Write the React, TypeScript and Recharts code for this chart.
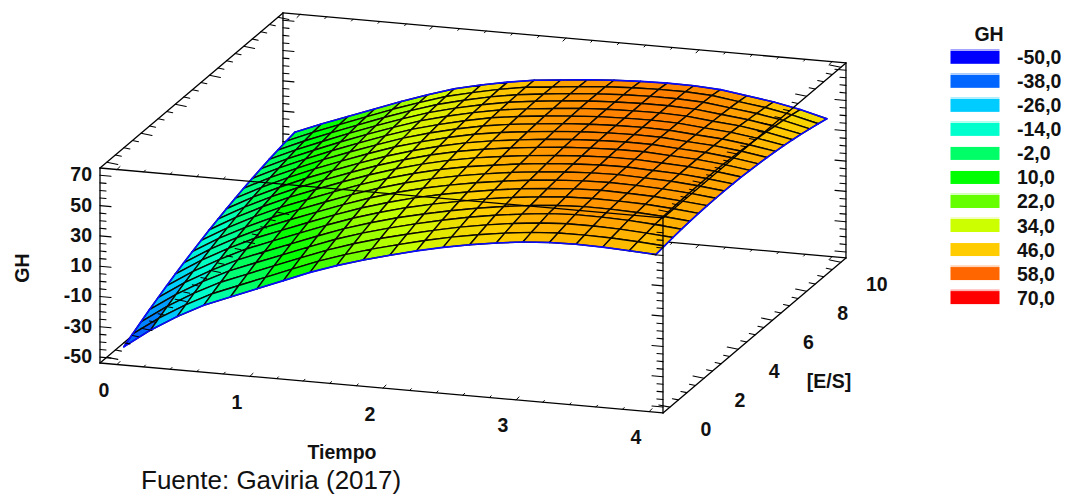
import React from "react";
import { ScatterChart, Scatter, XAxis, YAxis } from "recharts";

// Tiempo / [E/S] grid and GH estimates. Edge rows were read off the picture's silhouette;
// the interior can only be estimated from the colours and the smooth shape of the surface.
const tiempo = [0,0.2,0.4,0.6,0.8,1,1.2,1.4,1.6,1.8,2,2.2,2.4,2.6,2.8,3,3.2,3.4,3.6,3.8,4];
const es = [0,0.5,1,1.5,2,2.5,3,3.5,4,4.5,5,5.5,6,6.5,7,7.5,8,8.5,9,9.5,10];
const gh = [
[-46,-33.5,-23,-14,-7,0,7,14,20,25.3,30,34.4,38.3,41.6,44.3,46.5,47.7,48.1,47.8,47,46],
[-42.5,-30.3,-20,-11.1,-4.1,2.8,9.8,16.6,22.5,27.7,32.2,36.5,40.3,43.4,46,48.1,49.2,49.4,49,48.1,46.9],
[-39.1,-27.2,-17.1,-8.3,-1.4,5.6,12.4,19.1,24.9,29.9,34.3,38.4,42.1,45.1,47.6,49.5,50.5,50.6,50.1,49,47.7],
[-35.8,-24.2,-14.3,-5.6,1.3,8.1,14.9,21.5,27.1,32,36.3,40.3,43.8,46.7,49,50.9,51.8,51.7,51.1,49.9,48.4],
[-32.7,-21.3,-11.6,-3.1,3.8,10.6,17.3,23.7,29.2,34,38.1,41.8,45,47.7,49.9,51.5,52.3,52.2,51.5,50.4,48.9],
[-29.7,-18.6,-9.1,-0.7,6.2,12.9,19.6,25.8,31.2,35.9,39.8,43.2,46.4,48.9,50.8,52.3,52.9,52.7,52.2,50.9,49.3],
[-26.8,-16,-6.7,1.6,8.4,15.1,21.7,27.8,33,37.6,41.4,44.6,47.5,49.8,51.6,52.9,53.5,53.1,52.5,51.2,49.6],
[-24.1,-13.5,-4.4,3.7,10.6,17.2,23.7,29.6,34.8,39.2,42.8,45.9,48.5,50.7,52.3,53.4,53.9,53.5,52.8,51.5,49.7],
[-21.5,-11.2,-2.3,5.7,12.5,19.1,25.5,31.3,36.3,40.6,44.1,47,49.5,51.4,52.9,53.9,54.3,53.7,53,51.6,49.7],
[-19,-9,-0.2,7.6,14.4,21,27.3,32.9,37.8,42,45.3,47.9,50.3,52.1,53.4,54.3,54.5,53.8,53.1,51.6,49.6],
[-16.6,-6.9,1.7,9.4,16.2,22.7,28.9,34.4,39.2,43.2,46.4,48.9,51,52.7,53.9,54.7,54.8,53.9,53.1,51.6,49.4],
[-14.4,-4.9,3.4,11,17.8,24.2,30.4,35.7,40.4,44.3,47.3,49.7,51.7,53.3,54.3,55,55,54,53.1,51.4,49],
[-12.3,-3.1,5,12.5,19.2,25.6,31.7,36.9,41.4,45.2,48.1,50.3,52.3,53.7,54.6,55.1,55,53.9,52.9,51,48.5],
[-10.3,-1.4,6.6,13.9,20.6,27,33,38,42.4,46.1,48.8,50.9,52.7,54,54.8,55.2,55,53.7,52.6,50.6,47.9],
[-8.4,0.2,7.9,15.2,21.8,28.1,34.1,39,43.2,46.8,49.4,51.3,53,54.2,54.9,55.2,54.9,53.5,52.2,50,47.2],
[-6.7,1.7,9.2,16.3,22.9,29.2,35.1,39.8,43.9,47.4,49.8,51.7,53.2,54.4,55,55.2,54.8,53.2,51.8,49.4,46.3],
[-5.1,3,10.3,17.3,23.9,30.1,35.9,40.5,44.5,47.8,50.1,51.9,53.5,54.5,55,55.2,54.6,52.8,51.3,48.7,45.3],
[-3.6,4.2,11.3,18.2,24.7,30.9,36.6,41.1,44.9,48.1,50.3,52.1,53.6,54.5,55.1,55.1,54.5,52.5,50.6,47.8,44.2],
[-2.3,5.3,12.2,18.9,25.5,31.6,37.2,41.5,45.3,48.3,50.3,52.1,53.5,54.5,55,55,54.2,52.1,49.9,46.9,42.9],
[-1.1,6.2,12.9,19.5,26.1,32.1,37.7,41.8,45.5,48.4,50.2,52,53.4,54.3,54.8,54.8,53.9,51.4,49.1,45.8,41.5],
[0,7,13.5,20,26.5,32.5,38,42,45.5,48.3,50,51.7,53,53.8,54.2,54,53,50.5,48,44.5,40],
];
const ghLabels = [-50,-30,-10,10,30,50,70];
const ghMinor = [-50,-45,-40,-35,-30,-25,-20,-15,-10,-5,0,5,10,15,20,25,30,35,40,45,50,55,60,65,70];
const tiempoLabels = [0,1,2,3,4];
const tiempoTicks = [0,0.2,0.4,0.6,0.8,1,1.2,1.4,1.6,1.8,2,2.2,2.4,2.6,2.8,3,3.2,3.4,3.6,3.8,4];
const esLabels = [0,2,4,6,8,10];
const esTicks = [0,0.5,1,1.5,2,2.5,3,3.5,4,4.5,5,5.5,6,6.5,7,7.5,8,8.5,9,9.5,10];
const legendValues = ["-50,0","-38,0","-26,0","-14,0","-2,0","10,0","22,0","34,0","46,0","58,0","70,0"];
const legendLevels = [-50,-38,-26,-14,-2,10,22,34,46,58,70];
const legendColors = ["#0000ff","#0066ff","#00ccff","#00ffcc","#00ff66","#00ff00","#66ff00","#ccff00","#ffcc00","#ff6600","#ff0000"];
const legendPlain = ["-2,0","10,0","46,0"];

const W = 1068, H = 496;
const tMin = -0.128, tMax = 4.105, eMin = -0.4, eMax = 10.3, zMin = -53.9, zMax = 74.8;
const project = (t: number, e: number, z: number) => ({
  x: 100 + 133 * (t - tMin) + 17.1 * (e - eMin),
  y: 363 + 11.8 * (t - tMin) - 14.49 * (e - eMin) - 1.515 * (z - zMin),
});

const hexToRgb = (h: string) => [1, 3, 5].map((i) => parseInt(h.slice(i, i + 2), 16));
const colorAt = (z: number) => {
  const v = Math.max(legendLevels[0], Math.min(z, legendLevels[legendLevels.length - 1]));
  let i = 0;
  while (i < legendLevels.length - 2 && v > legendLevels[i + 1]) i++;
  const f = (v - legendLevels[i]) / (legendLevels[i + 1] - legendLevels[i]);
  const a = hexToRgb(legendColors[i]), b = hexToRgb(legendColors[i + 1]);
  return `rgb(${a.map((c, k) => Math.round(c + (b[k] - c) * f)).join(",")})`;
};

// surface cells, far to near
const cells: any[] = [];
for (let j = es.length - 2; j >= 0; j--) {
  for (let i = 0; i < tiempo.length - 1; i++) {
    const pts = [
      project(tiempo[i], es[j], gh[j][i]),
      project(tiempo[i + 1], es[j], gh[j][i + 1]),
      project(tiempo[i + 1], es[j + 1], gh[j + 1][i + 1]),
      project(tiempo[i], es[j + 1], gh[j + 1][i]),
    ];
    const x = pts.reduce((s, p) => s + p.x, 0) / 4;
    const y = pts.reduce((s, p) => s + p.y, 0) / 4;
    const z = (gh[j][i] + gh[j][i + 1] + gh[j + 1][i + 1] + gh[j + 1][i]) / 4;
    cells.push({ x, y, rel: pts.map((p) => [p.x - x, p.y - y]), fill: colorAt(z) });
  }
}

type P = { x: number; y: number };
const seg = (a: P, b: P, stroke = "#000", w = 1.3) => ({
  x: (a.x + b.x) / 2, y: (a.y + b.y) / 2, dx: (b.x - a.x) / 2, dy: (b.y - a.y) / 2, stroke, w,
});
const off = (p: P, dx: number, dy: number) => ({ x: p.x + dx, y: p.y + dy });

const backLines = [
  seg(project(tMin, eMax, zMin), project(tMin, eMax, zMax)),
  seg(project(tMin, eMax, zMin), project(tMax, eMax, zMin)),
  seg(project(tMin, eMin, zMin), project(tMin, eMax, zMin)),
  seg(project(tMin, eMax, zMax), project(tMax, eMax, zMax)),
  seg(project(tMax, eMax, zMin), project(tMax, eMax, zMax)),
  seg(project(tMin, eMin, zMax), project(tMin, eMax, zMax)),
];
const frontLines = [
  seg(project(tMin, eMin, zMax), project(tMax, eMin, zMax)),
  seg(project(tMax, eMin, zMax), project(tMax, eMax, zMax)),
  seg(project(tMin, eMin, zMin), project(tMin, eMin, zMax)),
  seg(project(tMin, eMin, zMin), project(tMax, eMin, zMin)),
  seg(project(tMax, eMin, zMin), project(tMax, eMin, zMax)),
  seg(project(tMax, eMin, zMin), project(tMax, eMax, zMin)),
];
ghMinor.forEach((z) => {
  const major = ghLabels.includes(z);
  const len = major ? 11 : 6;
  backLines.push(seg(project(tMin, eMax, z), off(project(tMin, eMax, z), len, len * 0.09), "#000", 1.1));
  backLines.push(seg(project(tMax, eMax, z), off(project(tMax, eMax, z), -len, -len * 0.09), "#000", 1.1));
  frontLines.push(seg(project(tMin, eMin, z), off(project(tMin, eMin, z), len, len * 0.09), "#000", 1.1));
  frontLines.push(seg(project(tMax, eMin, z), off(project(tMax, eMin, z), -len, -len * 0.09), "#000", 1.1));
});
tiempoTicks.forEach((t) => {
  const major = tiempoLabels.includes(t);
  const s = major ? 3 : 1.8;
  backLines.push(seg(project(t, eMax, zMin), off(project(t, eMax, zMin), -s, s), "#000", 1));
  backLines.push(seg(project(t, eMax, zMax), off(project(t, eMax, zMax), -s, s), "#000", 1));
  frontLines.push(seg(project(t, eMin, zMin), off(project(t, eMin, zMin), s, -s), "#000", 1));
  backLines.push(seg(project(t, eMin, zMax), off(project(t, eMin, zMax), s, -s), "#000", 1));
});
esTicks.forEach((e) => {
  const major = esLabels.includes(e);
  const len = major ? 11 : 6;
  backLines.push(seg(project(tMin, e, zMax), off(project(tMin, e, zMax), len, len * 0.2), "#000", 1.1));
  frontLines.push(seg(project(tMin, e, zMin), off(project(tMin, e, zMin), len, len * 0.2), "#000", 1.1));
  frontLines.push(seg(project(tMax, e, zMax), off(project(tMax, e, zMax), -len, -len * 0.2), "#000", 1.1));
  frontLines.push(seg(project(tMax, e, zMin), off(project(tMax, e, zMin), -len, -len * 0.2), "#000", 1.1));
});

const BLUE = "#0a0aff";
const rim: any[] = [];
for (let i = 0; i < tiempo.length - 1; i++) {
  const last = es.length - 1;
  rim.push(seg(project(tiempo[i], es[0], gh[0][i]), project(tiempo[i + 1], es[0], gh[0][i + 1]), BLUE, 1.6));
  rim.push(seg(project(tiempo[i], es[last], gh[last][i]), project(tiempo[i + 1], es[last], gh[last][i + 1]), BLUE, 1.6));
}
for (let j = 0; j < es.length - 1; j++) {
  const last = tiempo.length - 1;
  rim.push(seg(project(tiempo[0], es[j], gh[j][0]), project(tiempo[0], es[j + 1], gh[j + 1][0]), BLUE, 1.6));
  rim.push(seg(project(tiempo[last], es[j], gh[j][last]), project(tiempo[last], es[j + 1], gh[j + 1][last]), BLUE, 1.6));
}

const FS = 19.5;
const label = (x: number, y: number, text: string, anchor = "middle", size = FS, weight = 700, rotate = 0) =>
  ({ x, y, text, anchor, size, weight, rotate });
const labels = [
  ...ghLabels.map((z) => { const p = project(tMin, eMin, z); return label(p.x - 8, p.y - 1, String(z), "end"); }),
  ...tiempoLabels.map((t) => { const p = project(t, eMin, zMin); return label(p.x - 13, p.y + 25.5, String(t)); }),
  ...esLabels.map((e) => { const p = project(tMax, e, zMin); return label(p.x + 36, p.y + 22, String(e)); }),
  label(22, 268, "GH", "middle", FS, 700, -90),
  label(342, 452, "Tiempo", "middle", FS),
  label(829, 381, "[E/S]", "middle", FS),
  label(141, 480, "Fuente: Gaviria (2017)", "start", 26, 400),
  label(989, 34, "GH", "middle", FS),
  ...legendValues.map((v, i) => label(1017, 57.3 + i * 24.03, v, "start")),
];
const swatches = legendColors.map((fill, i) => ({
  x: 975, y: 57.3 + i * 24.03, fill, stripe: !legendPlain.includes(legendValues[i]),
}));

const CellShape = (p: any) => (
  <polygon
    points={p.payload.rel.map((r: number[]) => `${p.cx + r[0]},${p.cy + r[1]}`).join(" ")}
    fill={p.payload.fill}
    stroke="#0d0a00"
    strokeWidth={1.4}
    strokeLinejoin="round"
  />
);
const SegShape = (p: any) => (
  <line
    x1={p.cx - p.payload.dx} y1={p.cy - p.payload.dy}
    x2={p.cx + p.payload.dx} y2={p.cy + p.payload.dy}
    stroke={p.payload.stroke} strokeWidth={p.payload.w} strokeLinecap="round"
  />
);
const TextShape = (p: any) => {
  const d = p.payload;
  return (
    <text
      x={p.cx} y={p.cy} textAnchor={d.anchor} dominantBaseline="central"
      fontFamily="'Liberation Sans', Arial, sans-serif" fontSize={d.size} fontWeight={d.weight} fill="#111"
      transform={d.rotate ? `rotate(${d.rotate} ${p.cx} ${p.cy})` : undefined}
    >
      {d.text}
    </text>
  );
};
const SwatchShape = (p: any) => (
  <g>
    {p.payload.stripe ? (
      <rect x={p.cx - 24.5} y={p.cy - 8} width={49} height={1} fill={p.payload.fill} opacity={0.5} />
    ) : null}
    <rect x={p.cx - 24.5} y={p.cy - 6.5} width={49} height={13} fill={p.payload.fill} />
  </g>
);

export default function App() {
  return (
    <div style={{ position: "absolute", left: 0, top: 0, width: W, height: H, background: "#fff" }}>
      <ScatterChart width={W} height={H} margin={{ top: 0, right: 0, bottom: 0, left: 0 }}>
        <XAxis dataKey="x" type="number" domain={[0, W]} hide />
        <YAxis dataKey="y" type="number" domain={[0, H]} reversed hide />
        <Scatter name="back" data={backLines} shape={SegShape} isAnimationActive={false} />
        <Scatter name="surface" data={cells} shape={CellShape} isAnimationActive={false} />
        <Scatter name="rim" data={rim} shape={SegShape} isAnimationActive={false} />
        <Scatter name="front" data={frontLines} shape={SegShape} isAnimationActive={false} />
        <Scatter name="legend" data={swatches} shape={SwatchShape} isAnimationActive={false} />
        <Scatter name="labels" data={labels} shape={TextShape} isAnimationActive={false} />
      </ScatterChart>
    </div>
  );
}
